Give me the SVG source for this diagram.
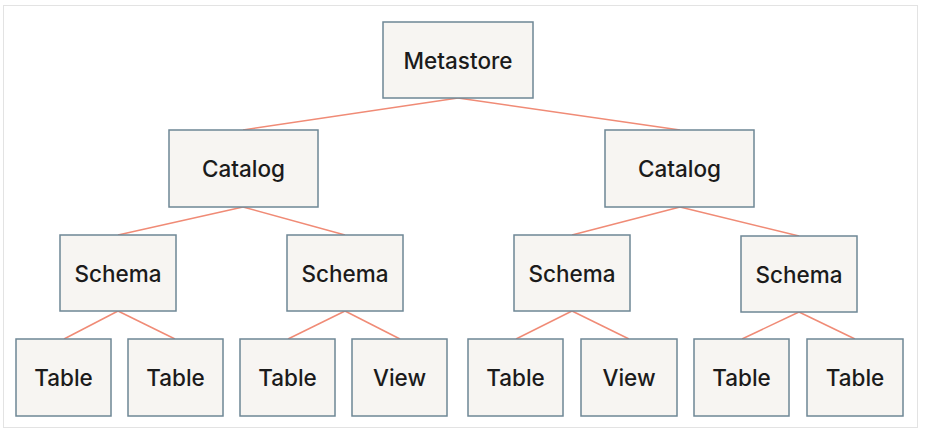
<svg xmlns="http://www.w3.org/2000/svg" width="935" height="438" viewBox="0 0 935 438">
<style>
.n rect{fill:#f7f5f2;stroke:#6e8795;stroke-width:1.5}
.n text{font-family:Inter,"Noto Sans",sans-serif;font-size:22.5px;font-weight:500;fill:#1b1b1b;text-anchor:middle;dominant-baseline:central}
#edges line{stroke:#f08b76;stroke-width:1.5}
</style>
<rect x="3.5" y="5.5" width="914" height="422" fill="#fff" stroke="#e3e3e3" stroke-width="1"/>
<g id="edges">
<line x1="458" y1="98" x2="243" y2="130"/>
<line x1="458" y1="98" x2="680" y2="130"/>
<line x1="243" y1="207" x2="118" y2="235"/>
<line x1="243" y1="207" x2="345" y2="235"/>
<line x1="680" y1="207" x2="572" y2="235"/>
<line x1="680" y1="207" x2="799" y2="236"/>
<line x1="118" y1="311" x2="64" y2="339"/>
<line x1="118" y1="311" x2="175" y2="339"/>
<line x1="345" y1="311" x2="288" y2="339"/>
<line x1="345" y1="311" x2="400" y2="339"/>
<line x1="572" y1="311" x2="516" y2="339"/>
<line x1="572" y1="311" x2="629" y2="339"/>
<line x1="799" y1="312" x2="742" y2="339"/>
<line x1="799" y1="312" x2="855" y2="339"/>
</g>
<g id="metastore" class="n"><rect x="383" y="22" width="150" height="76"/><text x="458" y="60">Metastore</text></g>
<g id="catalog1" class="n"><rect x="169" y="130" width="149" height="77"/><text x="243.5" y="168.5">Catalog</text></g>
<g id="catalog2" class="n"><rect x="605" y="130" width="149" height="77"/><text x="679.5" y="168.5">Catalog</text></g>
<g id="schema1" class="n"><rect x="60" y="235" width="116" height="76"/><text x="118" y="273">Schema</text></g>
<g id="schema2" class="n"><rect x="287" y="235" width="116" height="76"/><text x="345" y="273">Schema</text></g>
<g id="schema3" class="n"><rect x="514" y="235" width="116" height="76"/><text x="572" y="273">Schema</text></g>
<g id="schema4" class="n"><rect x="741" y="236" width="116" height="76"/><text x="799" y="274">Schema</text></g>
<g id="table1" class="n"><rect x="16" y="339" width="95" height="77"/><text x="63.5" y="377.5">Table</text></g>
<g id="table2" class="n"><rect x="128" y="339" width="95" height="77"/><text x="175.5" y="377.5">Table</text></g>
<g id="table3" class="n"><rect x="240" y="339" width="95" height="77"/><text x="287.5" y="377.5">Table</text></g>
<g id="view1" class="n"><rect x="352" y="339" width="95" height="77"/><text x="399.5" y="377.5">View</text></g>
<g id="table4" class="n"><rect x="468" y="339" width="95" height="77"/><text x="515.5" y="377.5">Table</text></g>
<g id="view2" class="n"><rect x="581" y="339" width="96" height="77"/><text x="629" y="377.5">View</text></g>
<g id="table5" class="n"><rect x="694" y="339" width="95" height="77"/><text x="741.5" y="377.5">Table</text></g>
<g id="table6" class="n"><rect x="807" y="339" width="96" height="77"/><text x="855" y="377.5">Table</text></g>
</svg>
